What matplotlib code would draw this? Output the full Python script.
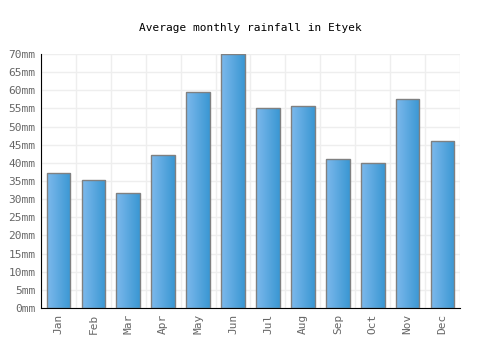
import numpy as np
import matplotlib
matplotlib.use("Agg")
import matplotlib.pyplot as plt
from matplotlib.colors import LinearSegmentedColormap

# Data
months = ["Jan", "Feb", "Mar", "Apr", "May", "Jun", "Jul", "Aug", "Sep", "Oct", "Nov", "Dec"]
rainfall = [37.2, 35.3, 31.7, 42.1, 59.5, 70.0, 55.1, 55.6, 41.0, 40.0, 57.6, 46.0]
yticks = list(range(0, 75, 5))

plt.rcParams['font.family'] = ['DejaVu Sans Mono']

fig = plt.figure(figsize=(5, 3.5), dpi=100)
ax = fig.add_axes([0.082, 0.12, 0.838, 0.726])

x = np.arange(len(months))
bars = ax.bar(x, rainfall, width=0.68, color='none', edgecolor='#808080', linewidth=1.0, zorder=3)

# Horizontal gradient fill for each bar
cmap = LinearSegmentedColormap.from_list("bar", ["#7db9ec", "#3a97d3"])
grad = np.linspace(0, 1, 100).reshape(1, -1)
for b in bars:
    x0, w, h = b.get_x(), b.get_width(), b.get_height()
    im = ax.imshow(grad, cmap=cmap, aspect='auto', extent=[x0, x0 + w, 0, h], zorder=2)
    im.set_clip_path(b)

ax.set_xlim(-0.5, len(months) - 0.5)
ax.set_ylim(0, 70)
ax.set_xticks(x)
ax.set_xticklabels(months, rotation=90, fontsize=8, color='#666666')
ax.set_yticks(yticks)
ax.set_yticklabels([f"{v}mm" for v in yticks], fontsize=8, color='#666666')
ax.tick_params(length=0, pad=4)

# Grid lines at category boundaries and y ticks
ax.set_xticks(np.arange(-0.5, len(months), 1), minor=True)
ax.grid(which='minor', axis='x', color='#eeeeee', linewidth=1, zorder=0)
ax.grid(which='major', axis='y', color='#eeeeee', linewidth=1, zorder=0)
ax.tick_params(which='minor', length=0)

for s in ['top', 'right']:
    ax.spines[s].set_visible(False)
ax.spines['left'].set_color('black')
ax.spines['bottom'].set_color('black')

fig.text(0.5, 0.92, "Average monthly rainfall in Etyek", ha='center', va='center', fontsize=8, color='black')

fig.savefig("out.png", dpi=100)
